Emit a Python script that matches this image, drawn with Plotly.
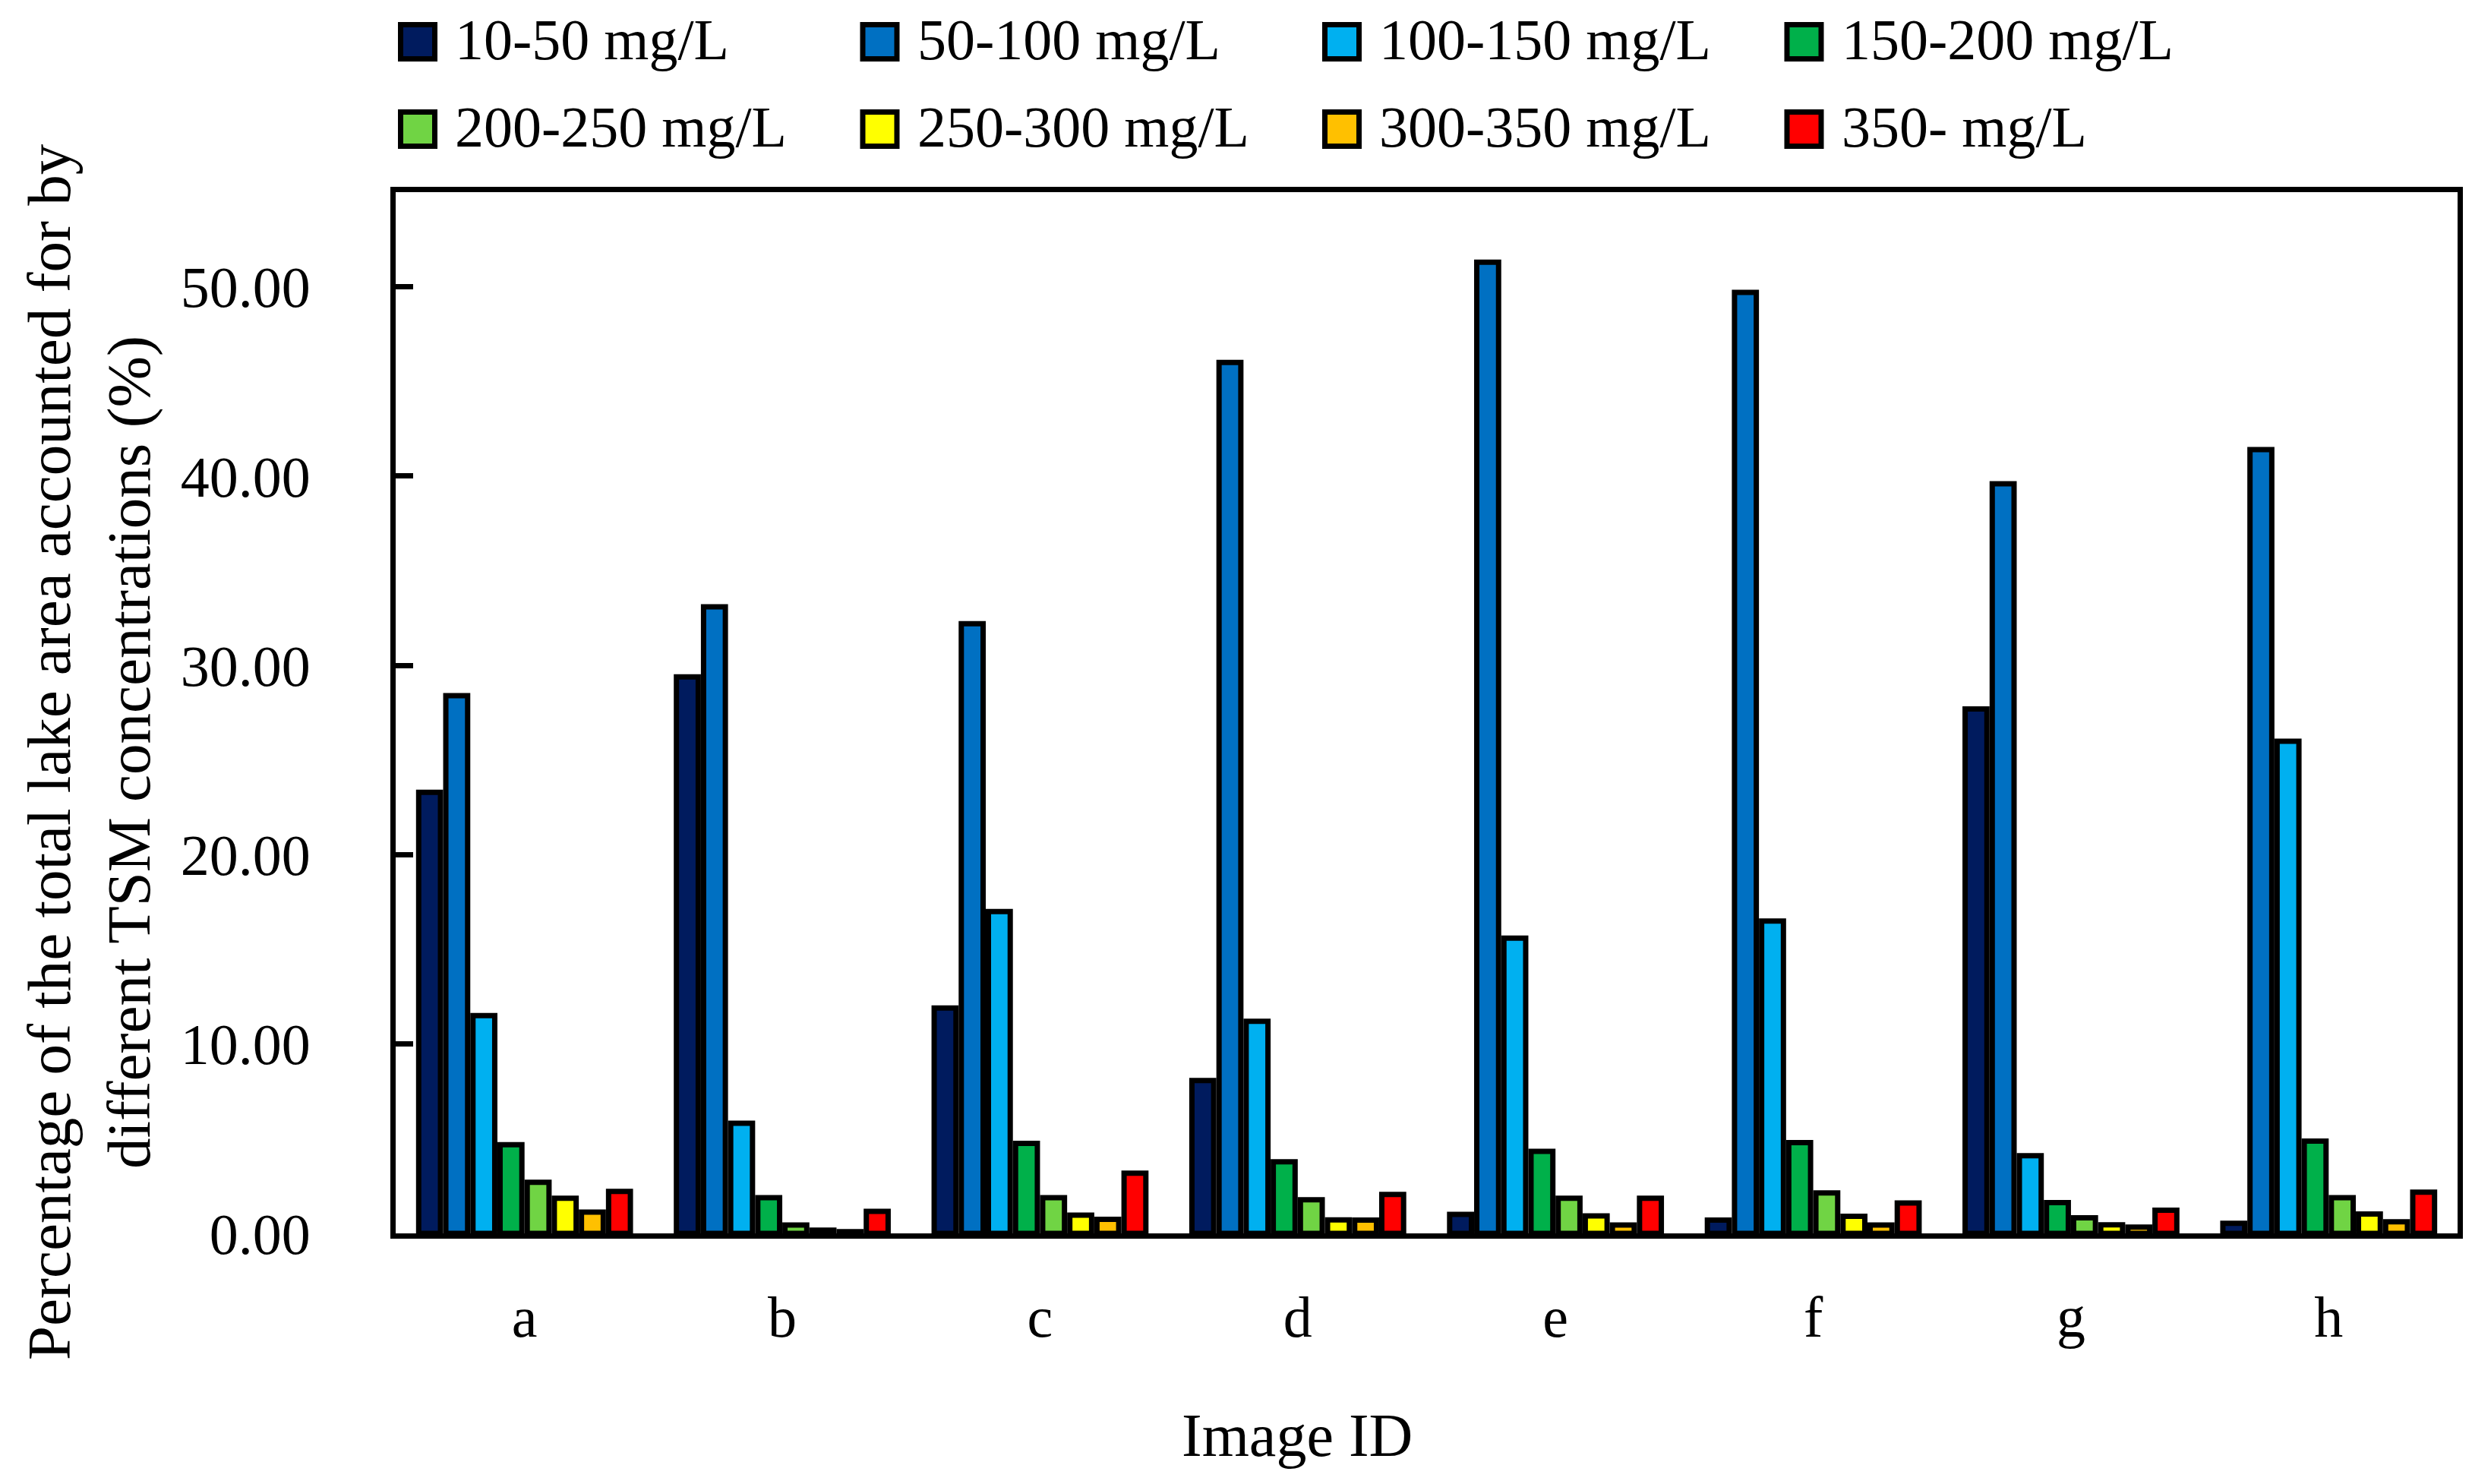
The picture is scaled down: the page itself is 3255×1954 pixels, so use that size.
import plotly.graph_objects as go

categories = ["a", "b", "c", "d", "e", "f", "g", "h"]
series_names = ["10-50 mg/L", "50-100 mg/L", "100-150 mg/L", "150-200 mg/L",
                "200-250 mg/L", "250-300 mg/L", "300-350 mg/L", "350- mg/L"]

tsm_10_50 = [23.3, 29.4, 11.9, 8.07, 1.00, 0.70, 27.7, 0.53]
tsm_50_100 = [28.4, 33.1, 32.2, 46.0, 51.3, 49.7, 39.6, 41.4]
tsm_100_150 = [11.5, 5.82, 17.0, 11.2, 15.6, 16.5, 4.10, 26.0]
tsm_150_200 = [4.68, 1.89, 4.75, 3.78, 4.33, 4.79, 1.62, 4.87]
tsm_200_250 = [2.70, 0.44, 1.89, 1.78, 1.86, 2.14, 0.82, 1.89]
tsm_250_300 = [1.86, 0.17, 0.96, 0.71, 0.92, 0.90, 0.45, 1.02]
tsm_300_350 = [1.12, 0.09, 0.74, 0.70, 0.44, 0.44, 0.33, 0.61]
tsm_350_up = [2.22, 1.16, 3.18, 2.06, 1.86, 1.60, 1.22, 2.18]

series_values = [tsm_10_50, tsm_50_100, tsm_100_150, tsm_150_200,
                 tsm_200_250, tsm_250_300, tsm_300_350, tsm_350_up]
colors = ["#001B5E", "#0070C2", "#00B0F0", "#00B04A",
          "#70D444", "#FFFF00", "#FFC000", "#FF0000"]

y_ticks = [0, 10, 20, 30, 40, 50]

FONT = "Liberation Serif"
FS = 76

# page geometry (reference pixels); the browser adds an 8px body margin
W, H = 3255, 1954
OFF = 8
PLOT_L, PLOT_R, PLOT_T, PLOT_B = 521, 3236, 253, 1624
PW, PH = PLOT_R - PLOT_L, PLOT_B - PLOT_T


def px_x(x):
    return (x - PLOT_L) / PW


def px_y(y):
    return (PLOT_B - y) / PH


fig = go.Figure()
for name, vals, col in zip(series_names, series_values, colors):
    fig.add_trace(go.Bar(
        x=categories, y=vals, name=name,
        marker=dict(color=col, line=dict(color="black", width=7)),
        showlegend=False,
    ))

fig.update_layout(
    width=W, height=H,
    paper_bgcolor="white", plot_bgcolor="white",
    margin=dict(l=PLOT_L - OFF, r=W - PLOT_R + OFF, t=PLOT_T - OFF,
                b=H - PLOT_B + OFF, autoexpand=False),
    barmode="group", bargap=0.158, bargroupgap=0.196,
    font=dict(family=FONT, size=FS, color="black"),
    showlegend=False,
)

fig.update_xaxes(
    showline=True, linecolor="black", linewidth=7, mirror=True,
    ticks="", showgrid=False, zeroline=False,
    tickfont=dict(family=FONT, size=FS, color="black"),
    ticklabelstandoff=38,
)
fig.update_yaxes(
    range=[0, 55], tickvals=y_ticks, tickformat=".2f",
    showline=True, linecolor="black", linewidth=7, mirror=True,
    ticks="inside", ticklen=23, tickwidth=7, tickcolor="black",
    showgrid=False, zeroline=False,
    tickfont=dict(family=FONT, size=FS, color="black"),
    ticklabelstandoff=90,
)

# legend: 2 rows x 4 columns with large bordered swatches
LEG_TEXT_X0, LEG_COL_PITCH = 597, 608.5
LEG_ROW_Y0, LEG_ROW_PITCH = 55, 115
SW, LW = 52, 7
for i, (name, col) in enumerate(zip(series_names, colors)):
    row, c = divmod(i, 4)
    tx = LEG_TEXT_X0 + c * LEG_COL_PITCH
    cy = LEG_ROW_Y0 + row * LEG_ROW_PITCH
    sx0 = tx - 73
    fig.add_shape(
        type="rect", xref="paper", yref="paper",
        x0=px_x(sx0 + LW / 2), x1=px_x(sx0 + SW - LW / 2),
        y0=px_y(cy + SW / 2 - LW / 2), y1=px_y(cy - SW / 2 + LW / 2),
        fillcolor=col, line=dict(color="black", width=LW), layer="above",
    )
    fig.add_annotation(
        text=name, xref="paper", yref="paper",
        x=px_x(tx), y=px_y(cy - 3), xanchor="left", yanchor="middle",
        showarrow=False, font=dict(family=FONT, size=FS, color="black"),
    )

fig.add_annotation(
    text="Percentage of the total lake area accounted for by<br>different TSM concentrations (%)",
    xref="paper", yref="paper", x=px_x(117), y=px_y(990),
    xanchor="center", yanchor="middle", textangle=-90, showarrow=False,
    font=dict(family=FONT, size=81, color="black"),
)
fig.add_annotation(
    text="Image ID",
    xref="paper", yref="paper", x=px_x(1708), y=px_y(1890),
    xanchor="center", yanchor="middle", showarrow=False,
    font=dict(family=FONT, size=80, color="black"),
)

fig.write_html("out.html")
